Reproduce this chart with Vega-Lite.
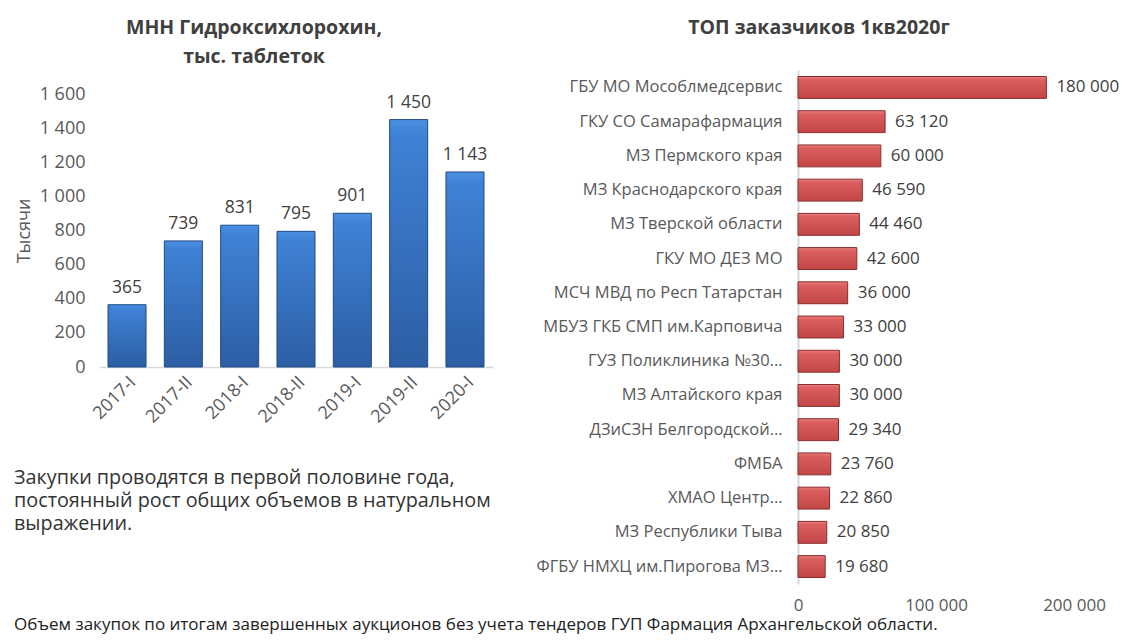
{
  "$schema": "https://vega.github.io/schema/vega-lite/v6.json",
  "background": "white",
  "padding": {"left": 14, "top": 13, "right": 5, "bottom": 5},
  "config": {
    "locale": {"number": {"decimal": ",", "thousands": " ", "grouping": [3], "currency": ["", ""]}},
    "font": "Open Sans",
    "view": {"stroke": null}
  },
  "title": {
    "text": "Объем закупок по итогам завершенных аукционов без учета тендеров ГУП Фармация Архангельской области.",
    "orient": "bottom", "anchor": "start", "fontSize": 17, "fontWeight": "normal", "color": "#222222", "offset": 4
  },
  "spacing": 42,
  "hconcat": [
    {
      "spacing": 14,
      "vconcat": [
        {
          "width": 310,
          "height": 58,
          "data": {"values": [
            {"line": 1, "text": "МНН Гидроксихлорохин,"},
            {"line": 2, "text": "тыс. таблеток"}
          ]},
          "mark": {"type": "text", "align": "center", "baseline": "middle", "fontSize": 19.5, "fontWeight": "bold", "color": "#404040"},
          "encoding": {
            "y": {"field": "line", "type": "ordinal", "axis": null},
            "text": {"field": "text"}
          }
        },
        {
          "width": 394,
          "height": 273,
          "data": {"values": [
            {"period": "2017-I", "value": 365},
            {"period": "2017-II", "value": 739},
            {"period": "2018-I", "value": 831},
            {"period": "2018-II", "value": 795},
            {"period": "2019-I", "value": 901},
            {"period": "2019-II", "value": 1450},
            {"period": "2020-I", "value": 1143}
          ]},
          "encoding": {
            "x": {"field": "period", "type": "nominal", "sort": null,
              "scale": {"paddingInner": 0.325, "paddingOuter": 0.16},
              "axis": {"title": null, "labelAngle": -45, "ticks": false, "domainColor": "#d9d9d9", "domainWidth": 1.5, "labelFontSize": 18, "labelColor": "#595959", "labelPadding": 6}},
            "y": {"field": "value", "type": "quantitative", "scale": {"domain": [0, 1600]},
              "axis": {"title": "Тысячи", "values": [0, 200, 400, 600, 800, 1000, 1200, 1400, 1600], "format": ",d", "grid": false, "domain": false, "ticks": false, "labelPadding": 14, "labelFontSize": 18, "labelColor": "#595959", "titleFontSize": 18, "titleFontWeight": "normal", "titleColor": "#595959", "titlePadding": 6}}
          },
          "layer": [
            {"mark": {"type": "bar", "fill": {"gradient": "linear", "x1": 0, "y1": 0, "x2": 0, "y2": 1, "stops": [{"offset": 0, "color": "#4a90e2"}, {"offset": 0.06, "color": "#3f82d6"}, {"offset": 1, "color": "#2c5ea3"}]}, "stroke": "#1f4a85", "strokeWidth": 1}},
            {"mark": {"type": "text", "baseline": "bottom", "dy": -8, "fontSize": 17.5, "color": "#404040"},
              "encoding": {"text": {"field": "value", "type": "quantitative", "format": ",d"}}}
          ]
        },
        {
          "width": 300,
          "height": 70,
          "data": {"values": [
            {"line": 1, "text": "Закупки проводятся в первой половине года,"},
            {"line": 2, "text": "постоянный рост общих объемов в натуральном"},
            {"line": 3, "text": "выражении."}
          ]},
          "mark": {"type": "text", "align": "left", "baseline": "middle", "fontSize": 19.8, "color": "#333333", "x": 0, "dx": -85, "dy": 25},
          "encoding": {
            "y": {"field": "line", "type": "ordinal", "axis": null},
            "text": {"field": "text"}
          }
        }
      ]
    },
    {
      "spacing": 28,
      "vconcat": [
        {
          "width": 42,
          "height": 29,
          "data": {"values": [{"line": 1, "text": "ТОП заказчиков 1кв2020г"}]},
          "mark": {"type": "text", "align": "center", "baseline": "middle", "fontSize": 19.5, "fontWeight": "bold", "color": "#404040"},
          "encoding": {
            "y": {"field": "line", "type": "ordinal", "axis": null},
            "text": {"field": "text"}
          }
        },
        {
          "width": 276,
          "height": 514,
          "data": {"values": [
            {"name": "ГБУ МО Мособлмедсервис", "value": 180000},
            {"name": "ГКУ СО Самарафармация", "value": 63120},
            {"name": "МЗ Пермского края", "value": 60000},
            {"name": "МЗ Краснодарского края", "value": 46590},
            {"name": "МЗ Тверской области", "value": 44460},
            {"name": "ГКУ МО ДЕЗ МО", "value": 42600},
            {"name": "МСЧ МВД по Респ Татарстан", "value": 36000},
            {"name": "МБУЗ ГКБ СМП им.Карповича", "value": 33000},
            {"name": "ГУЗ Поликлиника №30…", "value": 30000},
            {"name": "МЗ Алтайского края", "value": 30000},
            {"name": "ДЗиСЗН Белгородской…", "value": 29340},
            {"name": "ФМБА", "value": 23760},
            {"name": "ХМАО Центр…", "value": 22860},
            {"name": "МЗ Республики Тыва", "value": 20850},
            {"name": "ФГБУ НМХЦ им.Пирогова МЗ…", "value": 19680}
          ]},
          "encoding": {
            "y": {"field": "name", "type": "nominal", "sort": null,
              "scale": {"paddingInner": 0.36, "paddingOuter": 0.19},
              "axis": {"title": null, "ticks": false, "domainColor": "#d9d9d9", "domainWidth": 2, "labelFontSize": 16.5, "labelColor": "#595959", "labelPadding": 16, "labelLimit": 400}},
            "x": {"field": "value", "type": "quantitative", "scale": {"domain": [0, 200000]},
              "axis": {"title": null, "values": [0, 100000, 200000], "format": ",d", "grid": false, "domain": false, "ticks": false, "labelFlush": false, "labelFontSize": 17, "labelColor": "#595959", "labelPadding": 13}}
          },
          "layer": [
            {"mark": {"type": "bar", "fill": {"gradient": "linear", "x1": 0, "y1": 0, "x2": 0, "y2": 1, "stops": [{"offset": 0, "color": "#e88080"}, {"offset": 0.15, "color": "#db5f5f"}, {"offset": 1, "color": "#c24646"}]}, "stroke": "#8a2c2c", "strokeWidth": 1}},
            {"mark": {"type": "text", "align": "left", "baseline": "middle", "dx": 10, "fontSize": 17, "color": "#404040"},
              "encoding": {"text": {"field": "value", "type": "quantitative", "format": ",d"}}}
          ]
        }
      ]
    }
  ]
}
